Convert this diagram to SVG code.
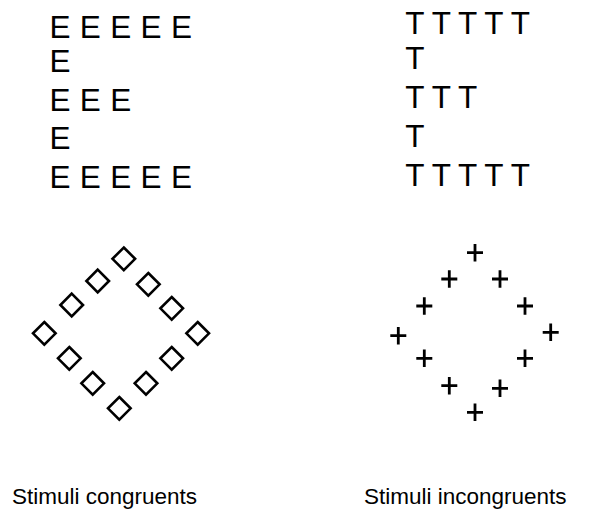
<svg xmlns="http://www.w3.org/2000/svg" width="597" height="509" viewBox="0 0 597 509">
<defs>
<style>
.big{font-family:"Liberation Sans",Arial,sans-serif;font-size:31.5px;fill:#000;white-space:pre}
.e{letter-spacing:0.3px}
.t{letter-spacing:-0.25px}
.lbl{font-family:"Liberation Sans",Arial,sans-serif;font-size:22.5px;fill:#000}
.dia{fill:none;stroke:#000;stroke-width:2.6}
.crs{fill:none;stroke:#000;stroke-width:2.8}
</style>
<path id="d" d="M0,-11.3 L11.3,0 L0,11.3 L-11.3,0 Z"/>
<path id="c" d="M-8,0 H8 M0,-8.8 V8.8"/>
</defs>
<g id="E-letters">
<text class="big e" x="49.5" y="37.5">E E E E E</text>
<text class="big e" x="49.5" y="72.3">E</text>
<text class="big e" x="49.5" y="111">E E E</text>
<text class="big e" x="49.5" y="149.3">E</text>
<text class="big e" x="49.5" y="188.3">E E E E E</text>
</g>
<g id="T-letters">
<text class="big t" x="405.3" y="34.4">T T T T T</text>
<text class="big t" x="405.3" y="69.3">T</text>
<text class="big t" x="405.3" y="108.3">T T T</text>
<text class="big t" x="405.3" y="146.7">T</text>
<text class="big t" x="405.3" y="186">T T T T T</text>
</g>
<g id="diamonds" class="dia">
<use href="#d" x="123.8" y="258.8"/>
<use href="#d" x="97.7" y="281"/>
<use href="#d" x="148.3" y="284.3"/>
<use href="#d" x="71.7" y="305"/>
<use href="#d" x="171.7" y="308.3"/>
<use href="#d" x="44.3" y="333.3"/>
<use href="#d" x="197.7" y="333.3"/>
<use href="#d" x="69.3" y="358.3"/>
<use href="#d" x="171.7" y="358.3"/>
<use href="#d" x="92.7" y="383.3"/>
<use href="#d" x="146" y="383.3"/>
<use href="#d" x="119.3" y="408.3"/>
</g>
<g id="crosses" class="crs">
<use href="#c" x="475" y="252.7"/>
<use href="#c" x="449.3" y="279"/>
<use href="#c" x="500" y="279"/>
<use href="#c" x="424.3" y="306"/>
<use href="#c" x="525" y="306"/>
<use href="#c" x="398.3" y="335.7"/>
<use href="#c" x="550.7" y="332.3"/>
<use href="#c" x="424.3" y="358.3"/>
<use href="#c" x="525" y="358.3"/>
<use href="#c" x="449.3" y="385.7"/>
<use href="#c" x="500" y="388.3"/>
<use href="#c" x="475" y="412.3"/>
</g>
<g id="labels">
<text class="lbl" x="12" y="503.5">Stimuli congruents</text>
<text class="lbl" x="364" y="503.5">Stimuli incongruents</text>
</g>
</svg>
